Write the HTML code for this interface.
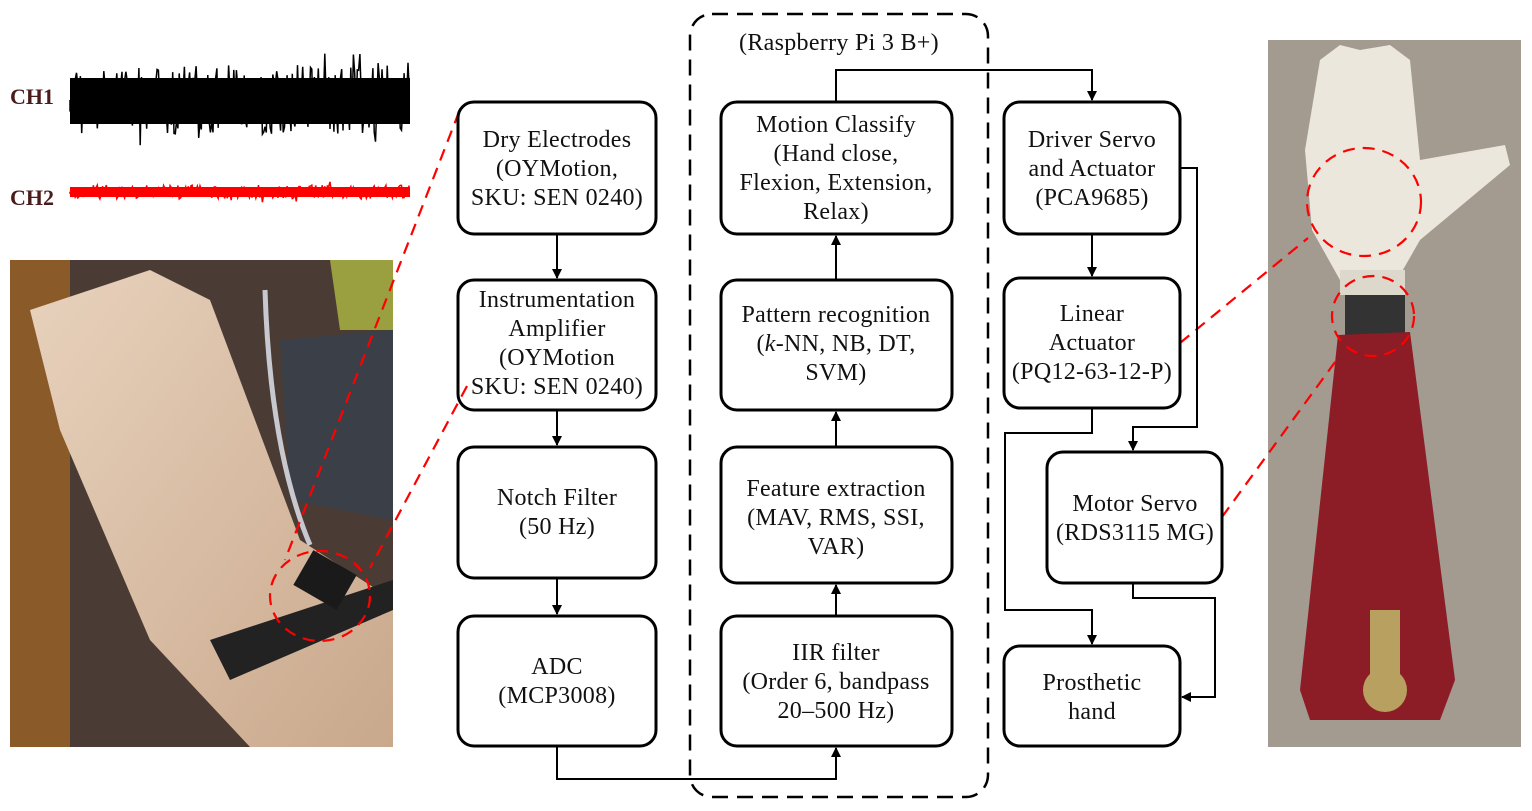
<!DOCTYPE html>
<html><head><meta charset="utf-8"><style>
html,body{margin:0;padding:0;background:#fff;}
svg{display:block;}
text{font-family:"Liberation Serif",serif;font-size:24px;letter-spacing:0.3px;fill:#111;}
</style></head><body>
<svg width="1532" height="811" viewBox="0 0 1532 811" xmlns="http://www.w3.org/2000/svg">
<defs>
<marker id="ar" markerWidth="10" markerHeight="10" refX="9" refY="5" orient="auto" markerUnits="userSpaceOnUse">
<path d="M0,0 L10,5 L0,10 z" fill="#000"/></marker>
<linearGradient id="arm" x1="0" y1="0" x2="1" y2="1"><stop offset="0" stop-color="#e8d2bd"/><stop offset="1" stop-color="#c9a88c"/></linearGradient>
</defs>

<text x="10" y="104" style="fill:#4a1c1c;font-weight:bold;font-size:22px;letter-spacing:0">CH1</text>
<text x="10" y="205" style="fill:#4a1c1c;font-weight:bold;font-size:22px;letter-spacing:0">CH2</text>
<rect x="70" y="78" width="340" height="46" fill="#000"/>
<path id="ch1" stroke="#000" stroke-width="1.5" fill="none" d=""/>
<rect x="70" y="187" width="340" height="10" fill="#f00"/>
<path id="ch2" stroke="#f00" stroke-width="1.5" fill="none" d=""/>

<rect x="10" y="260" width="383" height="487" fill="#4a3c34"/>
<rect x="10" y="260" width="60" height="487" fill="#8a5a28"/>
<path d="M330,260 L393,260 L393,330 L340,330 z" fill="#9aa040"/>
<path d="M280,340 L393,330 L393,520 L290,500 z" fill="#3a3f48"/>
<path d="M30,310 L150,270 L210,300 L300,540 L393,600 L393,747 L250,747 L150,640 L60,430 z" fill="url(#arm)"/>
<path d="M210,640 L393,580 L393,610 L230,680 z" fill="#222"/>
<rect x="300" y="560" width="50" height="40" fill="#1a1a1a" transform="rotate(30 325 580)"/>
<path d="M265,290 Q270,450 310,545" stroke="#c8c8d0" stroke-width="5" fill="none"/>

<rect x="1268" y="40" width="253" height="707" fill="#a39a90"/>
<path d="M1320,60 L1340,45 L1360,50 L1390,45 L1410,60 L1420,160 L1505,145 L1510,165 L1420,240 L1400,275 L1340,280 L1312,230 L1305,150 z" fill="#ece7dc"/>
<rect x="1340" y="270" width="65" height="25" fill="#ddd8cc"/>
<rect x="1345" y="295" width="60" height="40" fill="#333"/>
<path d="M1338,335 L1410,332 L1455,680 L1440,720 L1310,720 L1300,690 z" fill="#8c1c26"/>
<ellipse cx="1385" cy="690" rx="22" ry="22" fill="#b8a060"/>
<rect x="1370" y="610" width="30" height="80" fill="#b8a060"/>

<g stroke="#f00" stroke-width="2.2" fill="none" stroke-dasharray="12,8">
<ellipse cx="320" cy="596" rx="50" ry="45"/>
<line x1="459" y1="112" x2="285" y2="560"/>
<line x1="467" y1="386" x2="370" y2="568"/>
<ellipse cx="1364" cy="202" rx="57" ry="54"/>
<ellipse cx="1373" cy="316" rx="41" ry="40"/>
<line x1="1180" y1="343" x2="1308" y2="238"/>
<line x1="1222" y1="517" x2="1338" y2="358"/>
</g>

<rect x="690" y="14" width="298" height="783" rx="22" fill="none" stroke="#000" stroke-width="2.5" stroke-dasharray="16,9"/>
<text x="839" y="50" text-anchor="middle">(Raspberry Pi 3 B+)</text>

<g fill="none" stroke="#000" stroke-width="3">
<rect x="458" y="102" width="198" height="132" rx="16"/>
<rect x="458" y="280" width="198" height="130" rx="16"/>
<rect x="458" y="447" width="198" height="131" rx="16"/>
<rect x="458" y="616" width="198" height="130" rx="16"/>
<rect x="721" y="102" width="231" height="132" rx="16"/>
<rect x="721" y="280" width="231" height="130" rx="16"/>
<rect x="721" y="447" width="231" height="136" rx="16"/>
<rect x="721" y="616" width="231" height="130" rx="16"/>
<rect x="1004" y="102" width="176" height="132" rx="16"/>
<rect x="1004" y="278" width="176" height="130" rx="16"/>
<rect x="1047" y="452" width="175" height="131" rx="16"/>
<rect x="1004" y="646" width="176" height="100" rx="16"/>
</g>

<g stroke="#000" stroke-width="2" fill="none">
<line x1="557" y1="234" x2="557" y2="278" marker-end="url(#ar)"/>
<line x1="557" y1="410" x2="557" y2="445" marker-end="url(#ar)"/>
<line x1="557" y1="578" x2="557" y2="614" marker-end="url(#ar)"/>
<polyline points="557,746 557,779 836,779 836,748" marker-end="url(#ar)"/>
<line x1="836" y1="616" x2="836" y2="585" marker-end="url(#ar)"/>
<line x1="836" y1="447" x2="836" y2="412" marker-end="url(#ar)"/>
<line x1="836" y1="280" x2="836" y2="236" marker-end="url(#ar)"/>
<polyline points="836,102 836,70 1092,70 1092,100" marker-end="url(#ar)"/>
<line x1="1092" y1="234" x2="1092" y2="276" marker-end="url(#ar)"/>
<polyline points="1180,168 1197,168 1197,427 1133,427 1133,450" marker-end="url(#ar)"/>
<polyline points="1092,408 1092,433 1005,433 1005,610 1092,610 1092,644" marker-end="url(#ar)"/>
<polyline points="1133,583 1133,598 1215,598 1215,697 1182,697" marker-end="url(#ar)"/>
</g>

<g text-anchor="middle">
<text x="557" y="147">Dry Electrodes</text><text x="557" y="176">(OYMotion,</text><text x="557" y="205">SKU: SEN 0240)</text>
<text x="557" y="307">Instrumentation</text><text x="557" y="336">Amplifier</text><text x="557" y="365">(OYMotion</text><text x="557" y="394">SKU: SEN 0240)</text>
<text x="557" y="505">Notch Filter</text><text x="557" y="534">(50 Hz)</text>
<text x="557" y="674">ADC</text><text x="557" y="703">(MCP3008)</text>
<text x="836" y="132">Motion Classify</text><text x="836" y="161">(Hand close,</text><text x="836" y="190">Flexion, Extension,</text><text x="836" y="219">Relax)</text>
<text x="836" y="322">Pattern recognition</text><text x="836" y="351">(<tspan font-style="italic">k</tspan>-NN, NB, DT,</text><text x="836" y="380">SVM)</text>
<text x="836" y="496">Feature extraction</text><text x="836" y="525">(MAV, RMS, SSI,</text><text x="836" y="554">VAR)</text>
<text x="836" y="660">IIR filter</text><text x="836" y="689">(Order 6, bandpass</text><text x="836" y="718">20–500 Hz)</text>
<text x="1092" y="147">Driver Servo</text><text x="1092" y="176">and Actuator</text><text x="1092" y="205">(PCA9685)</text>
<text x="1092" y="321">Linear</text><text x="1092" y="350">Actuator</text><text x="1092" y="379">(PQ12-63-12-P)</text>
<text x="1135" y="511">Motor Servo</text><text x="1135" y="540">(RDS3115 MG)</text>
<text x="1092" y="690">Prosthetic</text><text x="1092" y="719">hand</text>
</g>
<script>
(function(){
var s=12345;function r(){s=(s*1103515245+12345)%2147483648;return s/2147483648;}
var d="M70,100",e="M70,192";
for(var x=70;x<=410;x+=1.3){var a=(r()-0.5);var amp=r()<0.12?95:70;d+=" L"+x.toFixed(1)+","+(100+a*amp).toFixed(1);
var b=(r()-0.5);e+=" L"+x.toFixed(1)+","+(192+b*(r()<0.03?24:14)).toFixed(1);}
document.getElementById('ch1').setAttribute('d',d);
document.getElementById('ch2').setAttribute('d',e);
})();
</script>
</svg>
</body></html>
